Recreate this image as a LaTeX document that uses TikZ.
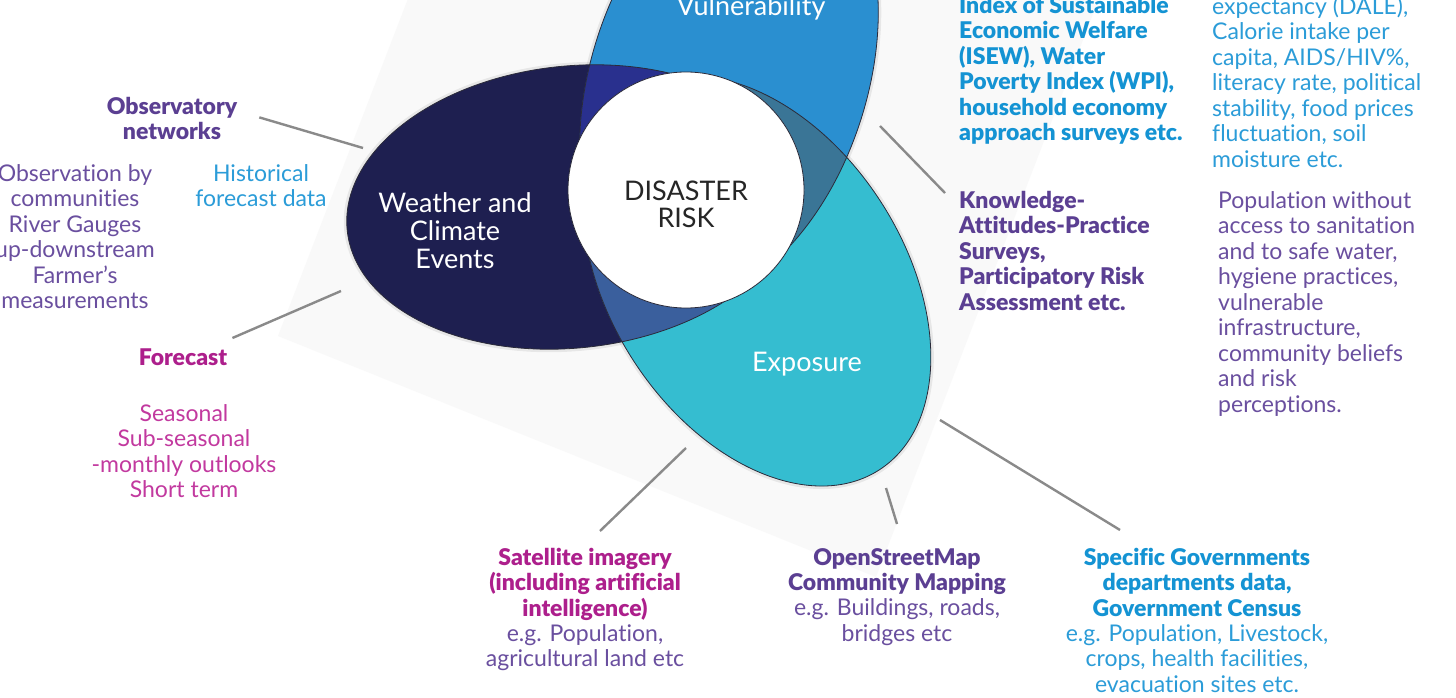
\documentclass[tikz,border=0pt]{standalone}
\usepackage{fontspec}
\setmainfont{Lato}[BoldFont={Lato Black}, Ligatures=NoCommon]
\usetikzlibrary{positioning}

\definecolor{wcol}{HTML}{1E1F50}
\definecolor{vcol}{HTML}{2A8FD0}
\definecolor{ecol}{HTML}{35BDD0}
\definecolor{wvcol}{HTML}{29308E}
\definecolor{wecol}{HTML}{3A5F9D}
\definecolor{vecol}{HTML}{3A7596}
\definecolor{edgecol}{HTML}{2B2B3A}
\definecolor{leadcol}{HTML}{8A8A8A}
\definecolor{purpH}{HTML}{5B3F92}
\definecolor{purpT}{HTML}{6A4F9F}
\definecolor{blueH}{HTML}{1493D3}
\definecolor{blueT}{HTML}{2B9CD8}
\definecolor{magH}{HTML}{AD1F8C}
\definecolor{magT}{HTML}{C2399F}
\definecolor{backcol}{HTML}{F9F9F9}

\begin{document}
\begin{tikzpicture}
    [x=1pt, y=1pt, node distance=0pt,
     txt/.style={inner sep=0, font=\fontsize{23}{25.5}\selectfont,
                 execute at begin node=\strut, execute at end node=\strut},
     head/.style={txt, font=\fontsize{23}{25.5}\selectfont\bfseries},
     title/.style={inner sep=0, text=white, align=center, font=\fontsize{27}{28}\selectfont},
     lead/.style={draw=leadcol, line width=2.4pt},
     rim/.style={draw=edgecol, line width=0.8pt},
     halo/.style={draw=black, line width=6pt, opacity=0.07},
     wthr/.style={rotate around={6:(572,-207)}},
     vuln/.style={rotate around={72:(729,-79)}},
     expo/.style={rotate around={-57:(757,-281)}}]
    \useasboundingbox (0,0) rectangle (1456,-698);
    \fill[white] (0,0) rectangle (1456,-698);
    \fill[backcol] (278,-336) -- (876,-577) -- (1108,25) -- (510,266) -- cycle;

    % the three ellipses
    \draw[halo, wthr] (572,-207) ellipse [x radius=226, y radius=141];
    \draw[halo, vuln] (729,-79) ellipse [x radius=230, y radius=138];
    \draw[halo, expo] (757,-281) ellipse [x radius=225, y radius=147];
    \fill[wcol, wthr] (572,-207) ellipse [x radius=226, y radius=141];
    \fill[vcol, vuln] (729,-79) ellipse [x radius=230, y radius=138];
    \fill[ecol, expo] (757,-281) ellipse [x radius=225, y radius=147];
    \begin{scope}
        \clip[wthr] (572,-207) ellipse [x radius=226, y radius=141];
        \fill[wvcol, vuln] (729,-79) ellipse [x radius=230, y radius=138];
        \fill[wecol, expo] (757,-281) ellipse [x radius=225, y radius=147];
    \end{scope}
    \begin{scope}
        \clip[vuln] (729,-79) ellipse [x radius=230, y radius=138];
        \fill[vecol, expo] (757,-281) ellipse [x radius=225, y radius=147];
    \end{scope}
    \draw[rim, wthr] (572,-207) ellipse [x radius=226, y radius=141];
    \draw[rim, vuln] (729,-79) ellipse [x radius=230, y radius=138];
    \draw[rim, expo] (757,-281) ellipse [x radius=225, y radius=147];

    \node[circle, rim, fill=white, minimum size=236, inner sep=0] (risk) at (686,-190) {};
    \node[align=center, inner sep=0, text=black!85, font=\fontsize{27}{27}\selectfont] (risklab) at ([yshift=-14pt]risk.center) {DISASTER\\RISK};

    \node[title] (wlab) at (455,-231) {Weather and\\Climate\\Events};
    \node[title] (vlab) at (751,-8) {Vulnerability};
    \node[title] (elab) at (807,-364) {Exposure};

    % left side
    \node[head, text=purpH, align=center, anchor=north] (obs) at (172,-97) {Observatory\\networks};
    \node[txt, text=purpT, align=center, anchor=north] (obsx) at (75,-164) {Observation by\\communities\\River Gauges\\up-downstream\\Farmer’s\\measurements};
    \node[txt, text=blueT, align=center, anchor=north] (hist) at (261,-164) {Historical\\forecast data};
    \node[head, text=magH, anchor=north] (fcst) at (183,-347) {Forecast};
    \node[txt, text=magT, align=center, anchor=north] (fcstx) at (184,-404) {Seasonal\\Sub-seasonal\\-monthly outlooks\\Short term};

    % right side
    \node[head, text=blueH, align=left, anchor=north west] (isew) at (959,4) {Index of Sustainable\\Economic Welfare\\(ISEW), Water\\Poverty Index (WPI),\\household economy\\approach surveys etc.};
    \node[txt, text=blueT, align=left, anchor=north west] (dale) at (1212,4) {expectancy (DALE),\\Calorie intake per\\capita, AIDS/HIV\%,\\literacy rate, political\\stability, food prices\\fluctuation, soil\\moisture etc.};
    \node[head, text=purpH, align=left, anchor=north west] (kap) at (959,-191) {Knowledge-\\Attitudes-Practice\\Surveys,\\Participatory Risk\\Assessment etc.};
    \node[txt, text=purpT, align=left, anchor=north west] (pop) at (1218,-191) {Population without\\access to sanitation\\and to safe water,\\hygiene practices,\\vulnerable\\infrastructure,\\community beliefs\\and risk\\perceptions.};

    % bottom
    \node[head, text=magH, align=center, anchor=north] (sat) at (585,-548) {Satellite imagery\\(including artificial\\intelligence)};
    \node[txt, text=purpT, align=center, below=of sat] (satx) {e.g. Population,\\agricultural land etc};
    \node[head, text=purpH, align=center, anchor=north] (osm) at (897,-548) {OpenStreetMap\\Community Mapping};
    \node[txt, text=purpT, align=center, below=of osm] (osmx) {e.g. Buildings, roads,\\bridges etc};
    \node[head, text=blueH, align=center, anchor=north] (gov) at (1197,-548) {Specific Governments\\departments data,\\Government Census};
    \node[txt, text=blueT, align=center, below=of gov] (govx) {e.g. Population, Livestock,\\crops, health facilities,\\evacuation sites etc.};

    % leader lines
    \coordinate (w1) at (363,-148);
    \coordinate (w2) at (341,-291);
    \coordinate (e1) at (686,-448);
    \coordinate (e2) at (886,-488);
    \coordinate (e3) at (940,-420);
    \coordinate (v1) at (880,-126);
    \draw[lead] ([shift={(22,5)}]obs.east) -- (w1);
    \draw[lead] ([shift={(5,9)}]fcst.north east) -- (w2);
    \draw[lead] ([shift={(15,17)}]sat.north) -- (e1);
    \draw[lead] ([shift={(0,24)}]osm.north) -- (e2);
    \draw[lead] ([shift={(-77,18)}]gov.north) -- (e3);
    \draw[lead] ([shift={(-14,-2)}]kap.north west) -- (v1);
\end{tikzpicture}
\end{document}
